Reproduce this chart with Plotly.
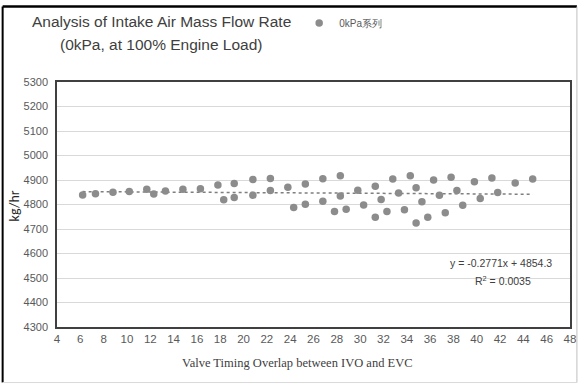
import plotly.graph_objects as go

# Valve timing overlap (deg) and measured intake air mass flow (kg/hr)
overlap = [6.2, 7.3, 8.8, 10.2, 11.7, 12.3, 13.3, 14.8, 16.3, 17.8, 18.3, 19.2, 19.2,
           20.8, 20.8, 22.3, 22.3, 23.8, 24.3, 25.3, 25.3, 26.8, 26.8, 27.8, 28.3, 28.3,
           28.8, 29.8, 30.3, 31.3, 31.3, 31.8, 32.3, 32.8, 33.3, 33.8, 34.3, 34.8, 34.8,
           35.3, 35.8, 36.3, 36.8, 37.3, 37.8, 38.3, 38.8, 39.8, 40.3, 41.3, 41.8, 43.3,
           44.8]
flow = [4839, 4844, 4850, 4853, 4862, 4843, 4855, 4862, 4864, 4880, 4819, 4886, 4829,
        4902, 4838, 4906, 4857, 4870, 4788, 4884, 4801, 4905, 4813, 4771, 4917, 4835,
        4781, 4858, 4798, 4874, 4748, 4820, 4771, 4904, 4847, 4779, 4917, 4868, 4724,
        4811, 4748, 4900, 4838, 4766, 4911, 4857, 4797, 4893, 4825, 4908, 4849, 4888,
        4904]

# Linear trendline coefficients
slope = -0.2771
intercept = 4854.3

x_ticks = list(range(4, 49, 2))
y_ticks = list(range(4300, 5301, 100))

W, H = 585, 386
L, R, T, B = 57, 576, 80, 327


def px(x):
    return (x - L) / (R - L)


def py(y):
    return (B - y) / (B - T)


SANS = "Liberation Sans, Arial, sans-serif"
GREY_MARK = "#8c8c8c"

trend_x = [min(overlap), max(overlap)]
trend_y = [slope * v + intercept for v in trend_x]

fig = go.Figure()
fig.add_trace(go.Scatter(
    x=trend_x, y=trend_y, mode="lines",
    line=dict(color="#7f7f7f", width=1.5, dash="dot"),
    showlegend=False, hoverinfo="skip"))
fig.add_trace(go.Scatter(
    x=overlap, y=flow, mode="markers", name="0kPa系列",
    marker=dict(color=GREY_MARK, size=7.5, line=dict(width=0))))

fig.update_layout(
    width=W, height=H,
    margin=dict(l=L, r=W - R, t=T, b=H - B),
    paper_bgcolor="white", plot_bgcolor="white",
    showlegend=True,
    legend=dict(x=px(302), y=py(6), xanchor="left", yanchor="top",
                font=dict(family=SANS, size=10, color="#595959"),
                bgcolor="rgba(0,0,0,0)", itemwidth=30),
    xaxis=dict(range=[4, 48], tickvals=x_ticks, showgrid=False, zeroline=False,
               showline=True, linecolor="#404040", linewidth=1.5, mirror=True,
               ticks="", tickfont=dict(family=SANS, size=11.5, color="#595959")),
    yaxis=dict(range=[4300, 5300], tickvals=y_ticks, showgrid=True,
               gridcolor="#d9d9d9", gridwidth=1, zeroline=False,
               showline=True, linecolor="#404040", linewidth=1.5, mirror=True,
               ticks="", ticklabelstandoff=5,
               tickfont=dict(family=SANS, size=11, color="#595959")),
    font=dict(family=SANS),
)

annotations = [
    dict(text="Analysis of Intake Air Mass Flow Rate", x=px(163), y=py(19),
         font=dict(family=SANS, size=15.5, color="#404040")),
    dict(text="(0kPa, at 100% Engine Load)", x=px(163), y=py(42),
         font=dict(family=SANS, size=15.5, color="#404040")),
    dict(text="kg/hr", x=px(14), y=py(205), textangle=-90,
         font=dict(family="Carlito, Liberation Sans, sans-serif", size=14, color="#262626")),
    dict(text="Valve Timing Overlap between IVO and EVC", x=px(300), y=py(363),
         font=dict(family="Liberation Serif, Times New Roman, serif", size=12.5, color="#404040")),
    dict(text="y = -0.2771x + 4854.3", x=px(506), y=py(262),
         font=dict(family=SANS, size=10.5, color="#404040")),
    dict(text="R<sup>2</sup> = 0.0035", x=px(508), y=py(280),
         font=dict(family=SANS, size=10.5, color="#404040")),
]
for a in annotations:
    a.update(xref="paper", yref="paper", showarrow=False,
             xanchor="center", yanchor="middle")
    fig.add_annotation(**a)

# Outer chart frame
frame = [
    (2, 4, 2, 383, "black", 2),
    (2, 4, 583, 4, "black", 2.5),
    (583, 4, 583, 383, "#bfbfbf", 1),
    (2, 383, 583, 383, "#d9d9d9", 1),
]
for x0, y0, x1, y1, c, w in frame:
    fig.add_shape(type="line", xref="paper", yref="paper",
                  x0=px(x0), y0=py(y0), x1=px(x1), y1=py(y1),
                  line=dict(color=c, width=w))

fig.write_html("out.html")
